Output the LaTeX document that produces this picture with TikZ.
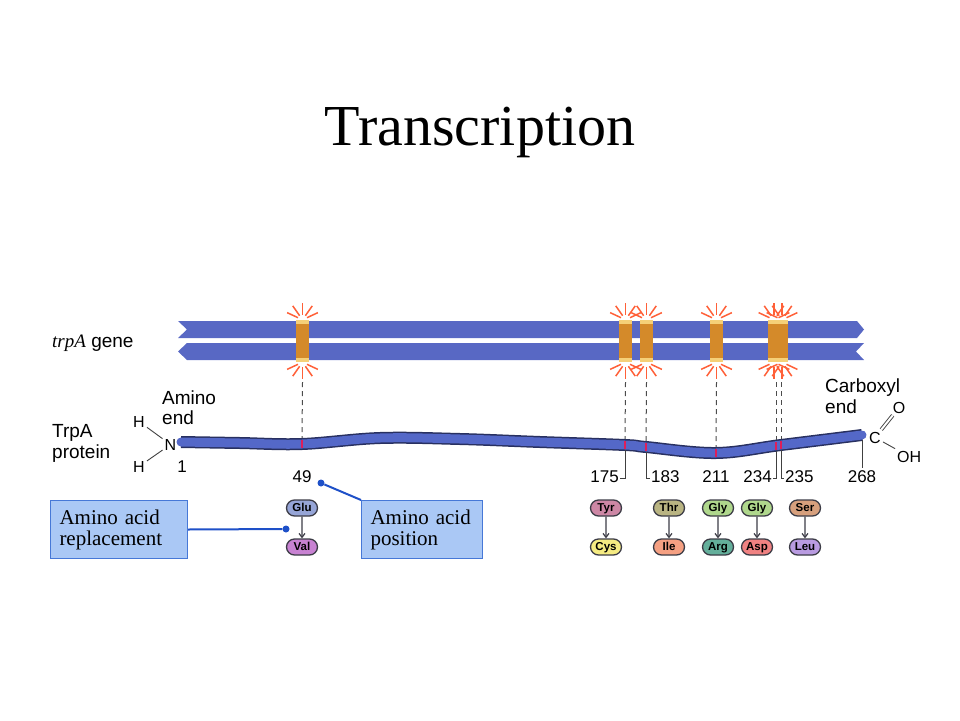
\documentclass[tikz,border=0pt]{standalone}
\usepackage{fontspec}
\setmainfont{Liberation Serif}
\setsansfont{Liberation Sans}
\usetikzlibrary{positioning,arrows.meta,shapes.misc}

\definecolor{genecol}{RGB}{88,104,196}
\definecolor{barcol}{RGB}{212,138,42}
\definecolor{barlight}{RGB}{245,208,120}
\definecolor{burstcol}{RGB}{255,96,56}
\definecolor{protfill}{RGB}{84,104,200}
\definecolor{protedge}{RGB}{40,48,96}
\definecolor{tickcol}{RGB}{222,30,90}
\definecolor{boxfill}{RGB}{170,200,245}
\definecolor{boxedge}{RGB}{70,120,215}
\definecolor{callcol}{RGB}{30,80,200}
\definecolor{pilledge}{RGB}{60,60,70}
\definecolor{cGlu}{RGB}{150,165,215}
\definecolor{cVal}{RGB}{200,130,210}
\definecolor{cTyr}{RGB}{205,135,165}
\definecolor{cCys}{RGB}{245,235,130}
\definecolor{cThr}{RGB}{185,180,130}
\definecolor{cIle}{RGB}{245,160,130}
\definecolor{cGly}{RGB}{175,215,140}
\definecolor{cArg}{RGB}{100,175,155}
\definecolor{cAsp}{RGB}{240,130,130}
\definecolor{cSer}{RGB}{215,160,125}
\definecolor{cLeu}{RGB}{185,155,225}

\begin{document}
\begin{tikzpicture}[x=1pt,y=-1pt,
    bar/.style={shape=rectangle, fill=barcol, inner sep=0pt, minimum width=13pt, minimum height=42pt,
      path picture={\fill[barlight] (path picture bounding box.north west) rectangle ([yshift=-4pt]path picture bounding box.north east);
        \fill[barlight] (path picture bounding box.south west) rectangle ([yshift=4pt]path picture bounding box.south east);}},
    lbl/.style={font=\sffamily\fontsize{19}{21}\selectfont, inner sep=0pt},
    num/.style={font=\sffamily\fontsize{17}{20}\selectfont, inner sep=0pt, anchor=base},
    atom/.style={font=\sffamily\fontsize{16}{18}\selectfont, inner sep=2pt},
    pill/.style={shape=rounded rectangle, draw=pilledge, line width=1.3pt, minimum width=33pt, minimum height=16pt, inner sep=1pt,
      text height=8.5pt, text depth=1.5pt, font=\sffamily\bfseries\fontsize{11.5}{12}\selectfont},
    callout/.style={shape=rectangle, draw=boxedge, line width=1pt, fill=boxfill, anchor=north west, inner xsep=9pt, font=\fontsize{21}{21}\selectfont},
    dotmark/.style={shape=circle, fill=callcol, inner sep=0pt, minimum size=7pt},
    callline/.style={draw=callcol, line width=2pt},
    lead/.style={draw=black!75, line width=0.9pt},
    dashlink/.style={draw=black!70, line width=1pt, dash pattern=on 5pt off 4pt},
    redtick/.style={draw=tickcol, line width=2pt},
    burst/.style={draw=burstcol, line width=1.5pt},
    pillarrow/.style={draw=pilledge, line width=1.2pt, -{Straight Barb[length=4pt,width=6pt]}}]
    \useasboundingbox (0,0) rectangle (960,720);

    \node[font=\fontsize{58}{60}\selectfont, anchor=base, inner sep=0pt] (title) at (480,145) {Transcription};

    % gene strands
    \fill[genecol] (178,321) -- (857,321) -- (864,329.5) -- (857,338) -- (178,338) -- (187,329.5) -- cycle;
    \fill[genecol] (187,343) -- (864,343) -- (856,351.5) -- (864,360) -- (187,360) -- (178,351.5) -- cycle;
    \node[lbl, anchor=base west] (genelbl) at (52,347) {{\rmfamily\itshape trpA} gene};

    % mutation sites
    \node[bar] (b49) at (302.5,341) {};
    \node[bar] (b175) at (625.5,341) {};
    \node[bar] (b183) at (646.5,341) {};
    \node[bar] (b211) at (716.5,341) {};
    \node[bar, minimum width=20pt] (b234) at (778,341) {};
    \foreach \b/\s in {b49/0, b175/0, b183/0, b211/0, b234/-4, b234/4}
      \foreach \a in {25,55,90,125,155} {
        \draw[burst] ([shift={(\a:5pt)},xshift=\s pt]\b.north) -- ([shift={(\a:17pt)},xshift=\s pt]\b.north);
        \draw[burst] ([shift={(-\a:5pt)},xshift=\s pt]\b.south) -- ([shift={(-\a:17pt)},xshift=\s pt]\b.south);
      }

    % protein
    \coordinate (p1) at (181,442);
    \coordinate (p49) at (302,444);
    \coordinate (p175) at (625,445);
    \coordinate (p183) at (646,447);
    \coordinate (p211) at (716,453);
    \coordinate (p234) at (776,446);
    \coordinate (p235) at (781,445);
    \coordinate (p268) at (862,435);
    \draw[protfill, line width=9pt, line cap=round, preaction={draw=protedge, line width=12pt}]
      plot[smooth, tension=0.6] coordinates {(p1) (240,443) (p49) (380,438) (460,439) (540,442) (p175) (p183) (p211) (p235) (p268)};
    \foreach \p in {p49,p175,p183,p211,p234,p235}
      \draw[redtick] ([yshift=4pt]\p) -- ([yshift=-4pt]\p);

    \draw[dashlink] ([yshift=-20pt]b49.south) -- ([yshift=6pt]p49);
    \draw[dashlink] ([yshift=-20pt]b175.south) -- ([yshift=6pt]p175);
    \draw[dashlink] ([yshift=-20pt]b183.south) -- ([yshift=6pt]p183);
    \draw[dashlink] ([yshift=-20pt]b211.south) -- ([yshift=6pt]p211);
    \draw[dashlink] ([xshift=-2pt,yshift=-20pt]b234.south) -- ([yshift=6pt]p234);
    \draw[dashlink] ([xshift=3pt,yshift=-20pt]b234.south) -- ([yshift=6pt]p235);

    \node[lbl, anchor=base west] (prot1) at (52,437) {TrpA};
    \node[lbl, anchor=base west] (prot2) at (52,458) {protein};
    \node[lbl, anchor=base west] (amino1) at (162,404) {Amino};
    \node[lbl, anchor=base west] (amino2) at (162,424) {end};
    \node[atom, anchor=base] (hup) at (139,427) {H};
    \node[atom, anchor=base] (nit) at (170.5,450) {N};
    \node[atom, anchor=base] (hdn) at (139,472) {H};
    \node[num] (n1) at (182,472) {1};
    \draw[lead] (hup) -- (nit);
    \draw[lead] (hdn) -- (nit);

    \node[lbl, anchor=base west] (carb1) at (825,392) {Carboxyl};
    \node[lbl, anchor=base west] (carb2) at (825,413) {end};
    \node[atom, anchor=base] (cC) at (875,443) {C};
    \node[atom, anchor=base] (cO) at (899,413) {O};
    \node[atom, anchor=base west] (cOH) at (895,462) {OH};
    \draw[lead, double, double distance=2pt] (cC) -- (cO);
    \draw[lead] (cC) -- (cOH);

    % positions
    \node[num] (n49) at (302,482) {49};
    \node[num, anchor=base east] (n175) at (619,482) {175};
    \node[num, anchor=base west] (n183) at (651,482) {183};
    \node[num] (n211) at (716,482) {211};
    \node[num, anchor=base east] (n234) at (772,482) {234};
    \node[num, anchor=base west] (n235) at (785,482) {235};
    \node[num] (n268) at (862,482) {268};
    \draw[lead] ([yshift=-5pt]p175) |- ([xshift=1pt,yshift=-2pt]n175.east);
    \draw[lead] ([yshift=-5pt]p183) |- ([xshift=-1pt,yshift=-2pt]n183.west);
    \draw[lead] ([yshift=-5pt]p234) |- ([xshift=1pt,yshift=-2pt]n234.east);
    \draw[lead] ([yshift=-5pt]p235) |- ([xshift=-1pt,yshift=-2pt]n235.west);
    \draw[lead] ([yshift=-5pt]p268) -- ([yshift=2pt]n268.north);

    % replacements
    \foreach \x/\a/\b [count=\i] in {302/Glu/Val, 606/Tyr/Cys, 669/Thr/Ile, 718/Gly/Arg, 757/Gly/Asp, 805/Ser/Leu} {
      \node[pill, fill=c\a] (from\i) at (\x,508) {\a};
      \node[pill, fill=c\b] (to\i) at (\x,547) {\b};
      \draw[pillarrow] (from\i) -- (to\i);
    }

    \node[callout, text width=119pt, minimum height=58pt] (repl) at (50,500) {Amino acid\\replacement};
    \node[callout, text width=103pt, minimum height=58pt] (posn) at (361,500) {Amino acid\\position};
    \node[dotmark] (dot1) at (286,529) {};
    \node[dotmark] (dot2) at (321,483) {};
    \draw[callline] (repl.east) -- (dot1);
    \draw[callline] (posn.north west) -- (dot2);
  \end{tikzpicture}
\end{document}
